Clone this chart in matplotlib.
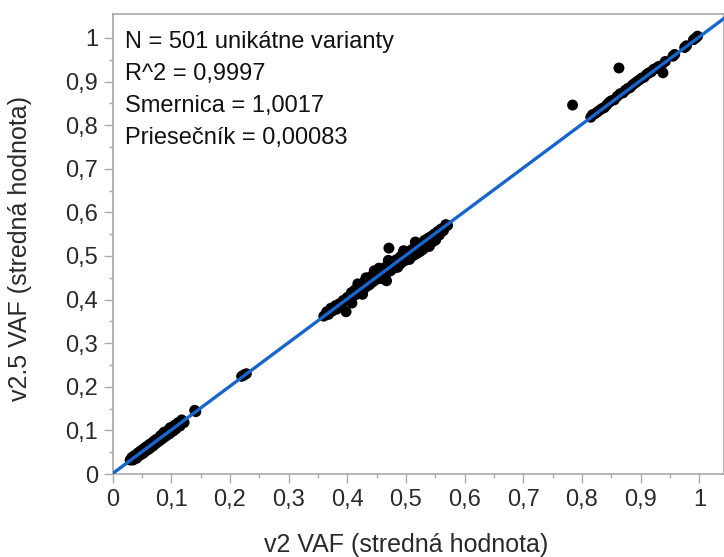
import numpy as np
import matplotlib.pyplot as plt

# v2 VAF vs v2.5 VAF
x_low = [0.030, 0.033, 0.035, 0.037, 0.040, 0.041, 0.043, 0.045, 0.047, 0.048,
         0.050, 0.052, 0.053, 0.055, 0.057, 0.058, 0.060, 0.062, 0.063, 0.065,
         0.067, 0.069, 0.070, 0.072, 0.074, 0.076, 0.078, 0.080, 0.082, 0.084,
         0.086, 0.088, 0.090, 0.092, 0.095, 0.097, 0.100, 0.103, 0.106, 0.108,
         0.112, 0.115, 0.118, 0.122, 0.140, 0.142, 0.088, 0.098]
y_low = [0.032, 0.038, 0.032, 0.042, 0.043, 0.036, 0.048, 0.042, 0.052, 0.044,
         0.054, 0.047, 0.058, 0.051, 0.062, 0.054, 0.064, 0.057, 0.068, 0.061,
         0.071, 0.064, 0.075, 0.068, 0.079, 0.072, 0.082, 0.076, 0.088, 0.080,
         0.092, 0.084, 0.096, 0.088, 0.100, 0.092, 0.106, 0.098, 0.112, 0.103,
         0.118, 0.110, 0.124, 0.118, 0.146, 0.143, 0.096, 0.106]

x_mid1 = [0.220, 0.223, 0.225, 0.228]
y_mid1 = [0.224, 0.226, 0.228, 0.230]

x_mid2 = [0.360, 0.365, 0.368, 0.372, 0.375, 0.380, 0.382, 0.386, 0.390, 0.393,
          0.398, 0.400, 0.403, 0.407, 0.410, 0.413, 0.416, 0.420, 0.422, 0.425,
          0.428, 0.430, 0.433, 0.436, 0.438, 0.440, 0.443, 0.445, 0.447, 0.450,
          0.452, 0.455, 0.457, 0.460, 0.462, 0.465, 0.467, 0.468, 0.471, 0.472,
          0.474, 0.477, 0.479, 0.482, 0.484, 0.487, 0.489, 0.492, 0.494, 0.497,
          0.499, 0.502, 0.504, 0.507, 0.509, 0.512, 0.514, 0.517, 0.519, 0.522,
          0.524, 0.527, 0.529, 0.532, 0.534, 0.537, 0.539, 0.542, 0.545, 0.548,
          0.551, 0.554, 0.557, 0.560, 0.564, 0.568, 0.571,
          0.418, 0.432, 0.446, 0.458, 0.470, 0.486, 0.496, 0.506, 0.516, 0.528,
          0.540, 0.550, 0.408, 0.426, 0.454]
y_mid2 = [0.362, 0.372, 0.366, 0.380, 0.374, 0.386, 0.378, 0.390, 0.386, 0.398,
          0.372, 0.405, 0.398, 0.416, 0.408, 0.422, 0.412, 0.430, 0.418, 0.436,
          0.424, 0.442, 0.430, 0.446, 0.434, 0.452, 0.440, 0.458, 0.444, 0.462,
          0.448, 0.466, 0.452, 0.470, 0.456, 0.474, 0.443, 0.462, 0.518, 0.478,
          0.466, 0.484, 0.472, 0.490, 0.476, 0.494, 0.480, 0.500, 0.486, 0.504,
          0.490, 0.508, 0.494, 0.512, 0.498, 0.516, 0.502, 0.522, 0.506, 0.526,
          0.510, 0.530, 0.516, 0.536, 0.520, 0.540, 0.524, 0.544, 0.532, 0.550,
          0.538, 0.556, 0.548, 0.562, 0.558, 0.572, 0.570,
          0.436, 0.450, 0.466, 0.448, 0.490, 0.474, 0.512, 0.492, 0.532, 0.514,
          0.522, 0.536, 0.392, 0.412, 0.472]

x_high = [0.784, 0.815, 0.818, 0.822, 0.826, 0.830, 0.834, 0.838, 0.842, 0.846,
          0.850, 0.855, 0.860, 0.863, 0.865, 0.870, 0.874, 0.878, 0.882, 0.886,
          0.890, 0.894, 0.898, 0.902, 0.906, 0.910, 0.914, 0.918, 0.922, 0.926,
          0.930, 0.935, 0.938, 0.942, 0.955, 0.958, 0.975, 0.978, 0.990, 0.994,
          0.997]
y_high = [0.846, 0.818, 0.824, 0.826, 0.830, 0.834, 0.838, 0.840, 0.846, 0.852,
          0.856, 0.858, 0.866, 0.931, 0.872, 0.874, 0.880, 0.884, 0.886, 0.892,
          0.896, 0.900, 0.904, 0.908, 0.910, 0.916, 0.920, 0.922, 0.928, 0.930,
          0.934, 0.936, 0.920, 0.946, 0.958, 0.962, 0.978, 0.982, 0.996, 1.000,
          1.004]

slope = 1.0017
intercept = 0.00083
stats_lines = ["N = 501 unikátne varianty", "R^2 = 0,9997",
               "Smernica = 1,0017", "Priesečník = 0,00083"]
ticks = [0, 0.1, 0.2, 0.3, 0.4, 0.5, 0.6, 0.7, 0.8, 0.9, 1]
tick_labels = ["0", "0,1", "0,2", "0,3", "0,4", "0,5", "0,6", "0,7", "0,8", "0,9", "1"]

plt.rcParams['font.family'] = ['Liberation Sans', 'DejaVu Sans']

x = np.array(x_low + x_mid1 + x_mid2 + x_high)
y = np.array(y_low + y_mid1 + y_mid2 + y_high)

fig = plt.figure(figsize=(7.24, 5.57), dpi=100)
ax = fig.add_axes([0.1554, 0.149, 0.8446, 0.826])

ax.scatter(x, y, s=62, color="black", edgecolors="none", zorder=2)
xl = np.array([0, 1.05])
ax.plot(xl, intercept + slope * xl, color="#1866CC", lw=2.4, zorder=3)

ax.set_xlim(0, 1.042)
ax.set_ylim(0, 1.055)
ax.set_xticks(ticks)
ax.set_xticklabels(tick_labels)
ax.set_yticks(ticks)
ax.set_yticklabels(tick_labels)
ax.set_xticks(np.array(ticks[:-1]) + 0.05, minor=True)
ax.set_yticks(np.array(ticks[:-1]) + 0.05, minor=True)

for s in ax.spines.values():
    s.set_color("#a8a8a8")
    s.set_linewidth(1.2)
ax.tick_params(which="major", length=6.5, width=1, color="#a8a8a8",
               labelsize=17, labelcolor="#2a2a2a", pad=4)
ax.tick_params(which="minor", length=3, width=1, color="#a8a8a8")

ax.set_xlabel("v2 VAF (stredná hodnota)", fontsize=18, color="#2a2a2a")
ax.set_ylabel("v2.5 VAF (stredná hodnota)", fontsize=18, color="#2a2a2a")
ax.xaxis.set_label_coords(0.48, -0.128)
ax.yaxis.set_label_coords(-0.132, 0.49)

for i, line in enumerate(stats_lines):
    ax.text(0.02, 0.939 - i * 0.0696, line, transform=ax.transAxes,
            fontsize=17, color="#111111", va="center", ha="left")

plt.savefig("out.png", dpi=100)
